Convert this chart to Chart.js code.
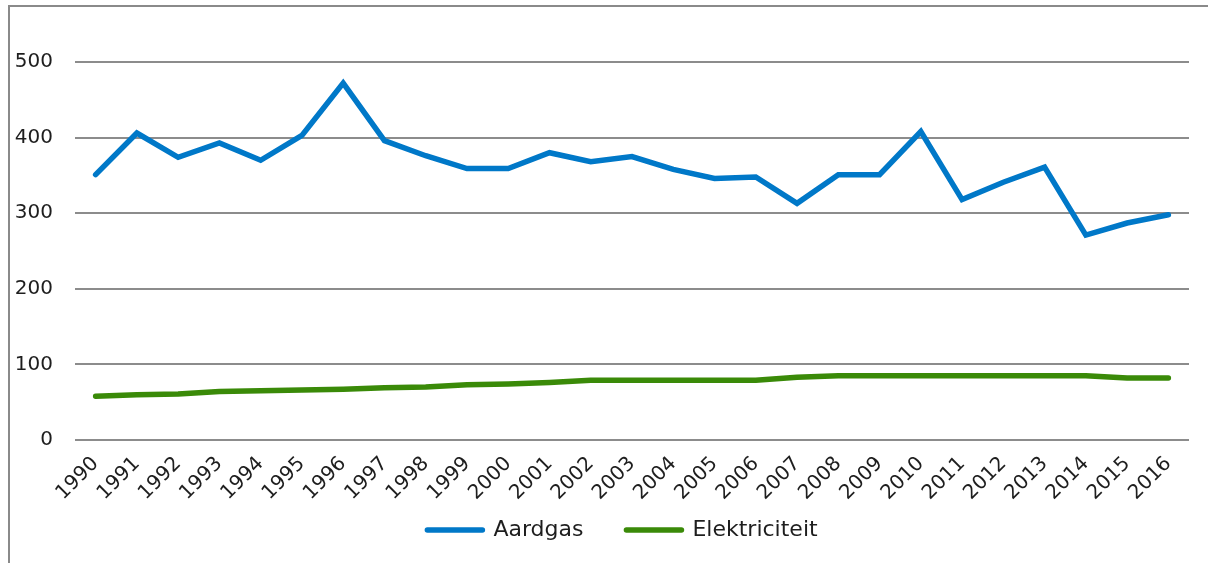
<!DOCTYPE html>
<html>
<head>
<meta charset="utf-8">
<script src="https://cdn.jsdelivr.net/npm/chart.js@4"></script>
<style>
  html, body { margin: 0; padding: 0; background: #fff; overflow: hidden; }
  #c { display: block; }
</style>
</head>
<body>
<canvas id="c" width="1208" height="563"></canvas>
<script>
// Jaarlijks verbruik per jaar
const years = ['1990','1991','1992','1993','1994','1995','1996','1997','1998','1999',
  '2000','2001','2002','2003','2004','2005','2006','2007','2008','2009',
  '2010','2011','2012','2013','2014','2015','2016'];
const aardgas = [351, 406, 374, 393, 370, 403, 472, 396, 376, 359,
  359, 380, 368, 375, 358, 346, 348, 313, 351, 351,
  408, 318, 341, 361, 271, 287, 298];
const elektriciteit = [58, 60, 61, 64, 65, 66, 67, 69, 70, 73,
  74, 76, 79, 79, 79, 79, 79, 83, 85, 85,
  85, 85, 85, 85, 85, 82, 82];
const yTicks = [0, 100, 200, 300, 400, 500];

const FONT = 'DejaVu Sans, Verdana, sans-serif';
const TEXT = '#1e1e1e';
const LEGEND_PAD = 43;

// white page with the chart frame along the left and top edges
const frame = {
  id: 'frame',
  beforeDraw(chart) {
    const ctx = chart.ctx;
    ctx.save();
    ctx.fillStyle = '#fff';
    ctx.fillRect(0, 0, chart.width, chart.height);
    ctx.strokeStyle = '#8a8a8a';
    ctx.lineWidth = 2;
    ctx.beginPath();
    ctx.moveTo(9, chart.height);
    ctx.lineTo(9, 6);
    ctx.lineTo(chart.width, 6);
    ctx.stroke();
    ctx.restore();
  }
};

// place the legend row just below the rotated year labels
const legendPlace = {
  id: 'legendPlace',
  afterLayout(chart) {
    const lg = chart.legend;
    if (!lg) return;
    lg.left += 28; lg.right += 28;
    const h = lg.bottom - lg.top;
    lg.top = 530 - 11 - LEGEND_PAD;
    lg.bottom = lg.top + h;
  }
};

new Chart(document.getElementById('c'), {
  type: 'line',
  data: {
    labels: years,
    datasets: [
      { label: 'Aardgas', data: aardgas, borderColor: '#0078c8', backgroundColor: '#0078c8',
        borderWidth: 5.5, pointRadius: 0, tension: 0, borderCapStyle: 'round', borderJoinStyle: 'miter' },
      { label: 'Elektriciteit', data: elektriciteit, borderColor: '#3a8a08', backgroundColor: '#3a8a08',
        borderWidth: 5.5, pointRadius: 0, tension: 0, borderCapStyle: 'round', borderJoinStyle: 'round' }
    ]
  },
  options: {
    responsive: false,
    animation: false,
    layout: { padding: { top: 62, right: 19, left: 0, bottom: -24 } },
    plugins: {
      tooltip: { enabled: false },
      legend: {
        position: 'bottom',
        labels: {
          usePointStyle: true,
          pointStyle: 'line',
          pointStyleWidth: 55,
          boxHeight: 22,
          padding: LEGEND_PAD,
          color: TEXT,
          font: { family: FONT, size: 22 },
          generateLabels(chart) {
            return chart.data.datasets.map((ds, i) => ({
              text: ds.label,
              strokeStyle: ds.borderColor,
              fillStyle: ds.borderColor,
              lineWidth: 5.5,
              lineCap: 'round',
              pointStyle: 'line',
              fontColor: TEXT,
              datasetIndex: i,
              hidden: false
            }));
          }
        }
      }
    },
    scales: {
      x: {
        offset: true,
        grid: { display: false },
        border: { display: false },
        ticks: { color: TEXT, font: { family: FONT, size: 20 }, minRotation: 45, maxRotation: 45,
                 autoSkip: false, padding: 4 },
        afterFit(scale) { scale.height = 72; }
      },
      y: {
        min: 0, max: 500,
        afterBuildTicks(scale) { scale.ticks = yTicks.map(v => ({ value: v })); },
        grid: { color: '#8c8c8c', lineWidth: 2, drawTicks: false },
        border: { display: false },
        ticks: { color: TEXT, font: { family: FONT, size: 20 }, padding: 22 },
        afterFit(scale) { scale.width = 75; }
      }
    }
  },
  plugins: [frame, legendPlace]
});
</script>
</body>
</html>
